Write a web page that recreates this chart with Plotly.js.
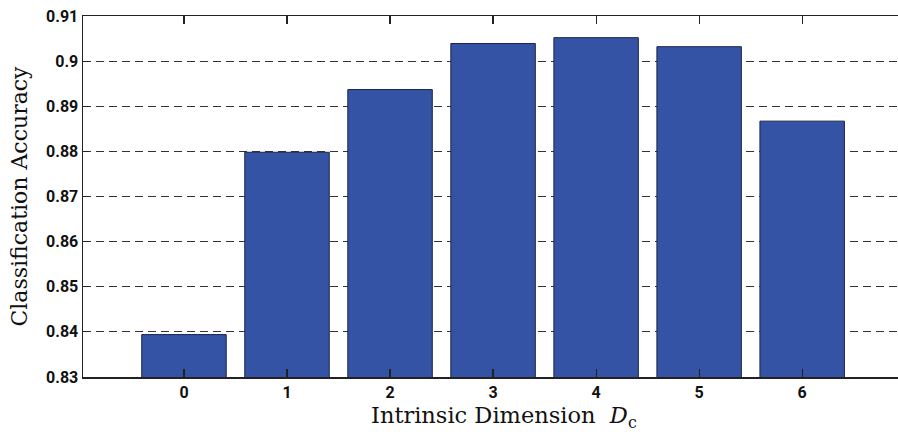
<!DOCTYPE html>
<html>
<head>
<meta charset="utf-8">
<script src="https://cdn.plot.ly/plotly-3.0.1.min.js"></script>
<style>
html,body{margin:0;padding:0;background:#fff;}
#chart{width:898px;height:432px;}
</style>
</head>
<body>
<div id="chart"></div>
<script>
const categories = [0, 1, 2, 3, 4, 5, 6];
const accuracy = [0.8394, 0.8798, 0.8937, 0.9039, 0.9052, 0.9032, 0.8867];
const yTicks = [0.83, 0.84, 0.85, 0.86, 0.87, 0.88, 0.89, 0.9, 0.91];
const yTickLabels = ['0.83', '0.84', '0.85', '0.86', '0.87', '0.88', '0.89', '0.9', '0.91'];
const xTitle = 'Intrinsic Dimension  <i>D</i><sub>c</sub>';
const yTitle = 'Classification Accuracy';

const tickFont = {family: 'Roboto, "DejaVu Sans", sans-serif', size: 16, color: '#111', weight: 'bold'};
const xTitleFont = {family: '"DejaVu Serif", "Liberation Serif", serif', size: 22.5, color: '#111'};
const yTitleFont = {family: '"DejaVu Serif", "Liberation Serif", serif', size: 22, color: '#111'};

const baseVal = 0.829;
const trace = {
  type: 'bar',
  x: categories,
  y: accuracy.map(v => v - baseVal),
  base: baseVal,
  width: 0.82,
  marker: {color: '#3453a5', line: {color: '#1c2448', width: 1}},
  hoverinfo: 'none'
};

const layout = {
  width: 898, height: 432,
  margin: {l: 83, r: 0, t: 16, b: 55},
  paper_bgcolor: '#fff', plot_bgcolor: '#fff',
  showlegend: false,
  xaxis: {
    range: [-0.98, 6.93],
    tickmode: 'array', tickvals: categories, ticktext: categories.map(String),
    ticks: 'inside', ticklen: 8, tickcolor: '#222', tickwidth: 1.2,
    showline: true, linecolor: '#222', linewidth: 1.5, mirror: 'ticks',
    showgrid: false, zeroline: false,
    tickfont: tickFont
  },
  yaxis: {
    range: [0.83, 0.91],
    tickmode: 'array', tickvals: yTicks, ticktext: yTickLabels,
    ticks: 'inside', ticklen: 5, tickcolor: '#222', tickwidth: 1.2,
    showline: true, linecolor: '#222', linewidth: 1.5, mirror: true,
    showgrid: true, gridcolor: '#333', gridwidth: 1, griddash: '8px,5px',
    zeroline: false,
    tickfont: tickFont,
    title: {text: yTitle, font: yTitleFont, standoff: 12}
  },
  annotations: [{
    text: xTitle, font: xTitleFont, showarrow: false,
    xref: 'paper', yref: 'paper', x: 0.517, y: 0,
    xanchor: 'center', yanchor: 'top', yshift: -23
  }]
};

Plotly.newPlot('chart', [trace], layout, {staticPlot: true, displayModeBar: false});
</script>
</body>
</html>
